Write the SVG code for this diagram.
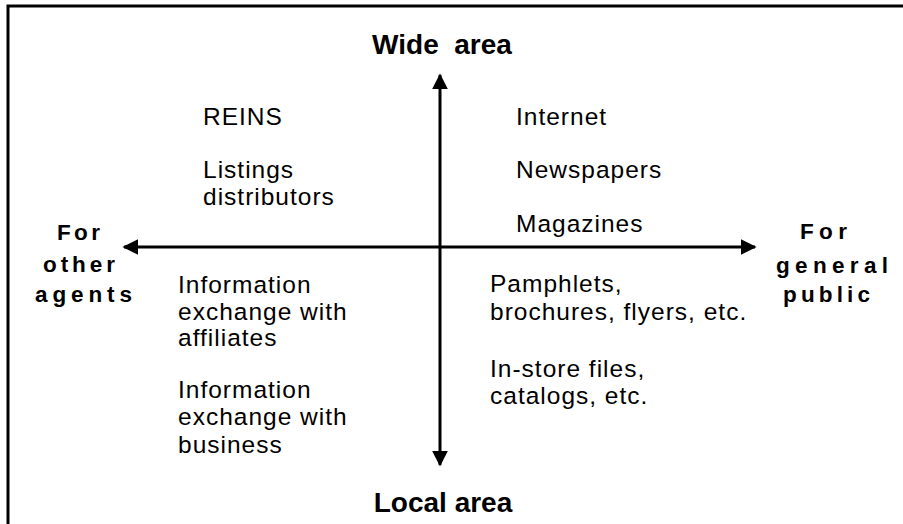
<svg xmlns="http://www.w3.org/2000/svg" width="903" height="524" viewBox="0 0 903 524">
  <style>
    .item { font-family: "Liberation Sans", Arial, sans-serif; font-size: 24.5px; letter-spacing: 1px; fill: #000; }
    .axis-title { font-family: "Liberation Sans", Arial, sans-serif; font-size: 28px; font-weight: bold; fill: #000; text-anchor: middle; }
    .side-title { font-family: "Liberation Sans", Arial, sans-serif; font-size: 22.5px; font-weight: bold; fill: #000; }
    .axis { stroke: #000; stroke-width: 3; fill: none; }
  </style>
  <defs>
    <marker id="head" viewBox="0 0 10 10" refX="9" refY="5" markerWidth="16" markerHeight="16" markerUnits="userSpaceOnUse" orient="auto">
      <path d="M0,0 L10,5 L0,10 Z" fill="#000"/>
    </marker>
  </defs>
  <rect x="0" y="0" width="903" height="524" fill="#fff"/>
  <!-- frame: open on the right and bottom edges -->
  <path d="M8,530 L8,6 L910,6" fill="none" stroke="#000" stroke-width="3"/>

  <g id="connectors">
    <line class="axis" x1="440" y1="247" x2="440" y2="75" marker-end="url(#head)"/>
    <line class="axis" x1="440" y1="247" x2="440" y2="465" marker-end="url(#head)"/>
    <line class="axis" x1="440" y1="247" x2="124" y2="247" marker-end="url(#head)"/>
    <line class="axis" x1="440" y1="247" x2="755" y2="247" marker-end="url(#head)"/>
  </g>

  <g id="wide-area"><text class="axis-title" x="442" y="54" xml:space="preserve">Wide  area</text></g>
  <g id="local-area"><text class="axis-title" x="443" y="512">Local area</text></g>
  <g id="for-other-agents">
    <text class="side-title" x="57" y="240" textLength="43" lengthAdjust="spacing">For</text>
    <text class="side-title" x="43" y="272" textLength="72" lengthAdjust="spacing">other</text>
    <text class="side-title" x="35" y="302" textLength="97" lengthAdjust="spacing">agents</text>
  </g>
  <g id="for-general-public">
    <text class="side-title" x="800" y="239" textLength="47" lengthAdjust="spacing">For</text>
    <text class="side-title" x="776" y="273" textLength="112" lengthAdjust="spacing">general</text>
    <text class="side-title" x="783" y="302" textLength="87" lengthAdjust="spacing">public</text>
  </g>

  <g id="reins"><text class="item" x="203" y="125">REINS</text></g>
  <g id="listings-distributors">
    <text class="item" x="203" y="178">Listings</text>
    <text class="item" x="203" y="205">distributors</text>
  </g>
  <g id="internet"><text class="item" x="516" y="125">Internet</text></g>
  <g id="newspapers"><text class="item" x="516" y="178">Newspapers</text></g>
  <g id="magazines"><text class="item" x="516" y="232">Magazines</text></g>
  <g id="info-affiliates">
    <text class="item" x="178" y="293">Information</text>
    <text class="item" x="178" y="320">exchange with</text>
    <text class="item" x="178" y="346">affiliates</text>
  </g>
  <g id="info-business">
    <text class="item" x="178" y="398">Information</text>
    <text class="item" x="178" y="425">exchange with</text>
    <text class="item" x="178" y="453">business</text>
  </g>
  <g id="pamphlets">
    <text class="item" x="490" y="292">Pamphlets,</text>
    <text class="item" x="490" y="320">brochures, flyers, etc.</text>
  </g>
  <g id="in-store">
    <text class="item" x="490" y="377">In-store files,</text>
    <text class="item" x="490" y="404">catalogs, etc.</text>
  </g>
</svg>
